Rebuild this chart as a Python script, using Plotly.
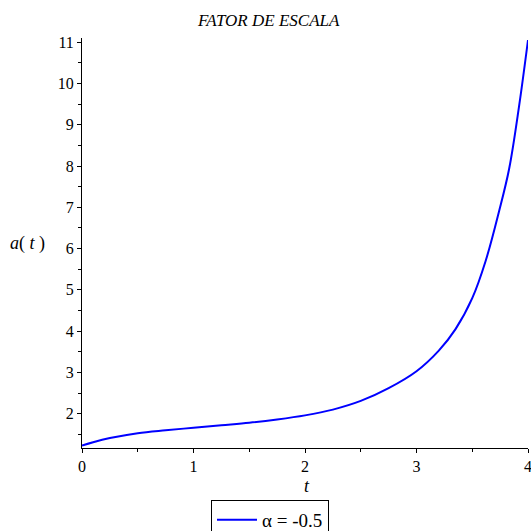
import plotly.graph_objects as go

t_vals = [0, 0.1, 0.25, 0.5, 0.75, 1.0, 1.25, 1.5, 1.75, 2.0, 2.25, 2.5, 2.75,
          3.0, 3.2, 3.35, 3.5, 3.62, 3.74, 3.83, 3.92, 4.0]
a_vals = [1.23, 1.31, 1.41, 1.53, 1.60, 1.66, 1.72, 1.78, 1.86, 1.96, 2.10, 2.31, 2.62,
          3.03, 3.53, 4.05, 4.80, 5.70, 6.90, 7.92, 9.45, 11.05]
x_ticks = [0, 1, 2, 3, 4]
y_ticks = [2, 3, 4, 5, 6, 7, 8, 9, 10, 11]
series_name = "α = -0.5"
title_text = "FATOR DE ESCALA"

FONT = "Liberation Serif, Times New Roman, serif"

W = H = 531
PL, PR, PT, PB = 82, 531 - 528, 38, 531 - 448  # plot area in page px
PW = W - PL - PR
PH = H - PT - PB


def px_x(sx):
    return (sx - PL) / PW


def px_y(sy):
    return (H - PB - sy) / PH


fig = go.Figure()
fig.add_trace(go.Scatter(
    x=t_vals, y=a_vals, mode="lines", name=series_name,
    line=dict(color="#0000ff", width=2, shape="spline", smoothing=1.0),
    cliponaxis=False,
))

fig.update_layout(
    width=W, height=H,
    margin=dict(l=PL, r=PR, t=PT, b=PB, autoexpand=False),
    paper_bgcolor="white", plot_bgcolor="white",
    font=dict(family=FONT, size=16, color="black"),
    showlegend=True,
    legend=dict(
        xref="container", yref="container",
        x=270 / W, y=(H - 500) / H, xanchor="center", yanchor="top",
        bordercolor="black", borderwidth=1, bgcolor="white",
        font=dict(family=FONT, size=19, color="black"),
        itemwidth=40,
    ),
    xaxis=dict(
        range=[0, 4], tickvals=x_ticks, ticktext=[str(v) for v in x_ticks],
        showgrid=False, zeroline=False, showline=True, linecolor="black", linewidth=1,
        ticks="outside", ticklen=4, tickcolor="black", automargin=False,
        ticklabeloverflow="allow",
        minor=dict(ticks="outside", ticklen=3, dtick=0.5, tickcolor="black"),
        tickfont=dict(family=FONT, size=16),
    ),
    yaxis=dict(
        range=[1.17, 11.1], tickvals=y_ticks, ticktext=[str(v) for v in y_ticks],
        showgrid=False, zeroline=False, showline=True, linecolor="black", linewidth=1,
        ticks="outside", ticklen=4, tickcolor="black", automargin=False,
        ticklabeloverflow="allow",
        minor=dict(ticks="outside", ticklen=3, dtick=0.5, tickcolor="black"),
        tickfont=dict(family=FONT, size=16),
    ),
    annotations=[
        dict(text="<i>" + title_text + "</i>", x=px_x(268), y=px_y(21),
             xref="paper", yref="paper", xanchor="center", yanchor="middle",
             showarrow=False, font=dict(family=FONT, size=17)),
        dict(text="<i>t</i>", x=px_x(307), y=px_y(486),
             xref="paper", yref="paper",
             xanchor="center", yanchor="middle", showarrow=False,
             font=dict(family=FONT, size=18)),
        dict(text="<i>a</i>( <i>t</i> )", x=px_x(27), y=px_y(243),
             xref="paper", yref="paper",
             xanchor="center", yanchor="middle", showarrow=False,
             font=dict(family=FONT, size=18)),
    ],
)

# remove the browser's default 8px body margin so the page maps 1:1 to the window
fig.write_html(
    "out.html",
    config={"displayModeBar": False},
    post_script="document.body.style.margin='0';document.body.style.overflow='hidden';",
)
